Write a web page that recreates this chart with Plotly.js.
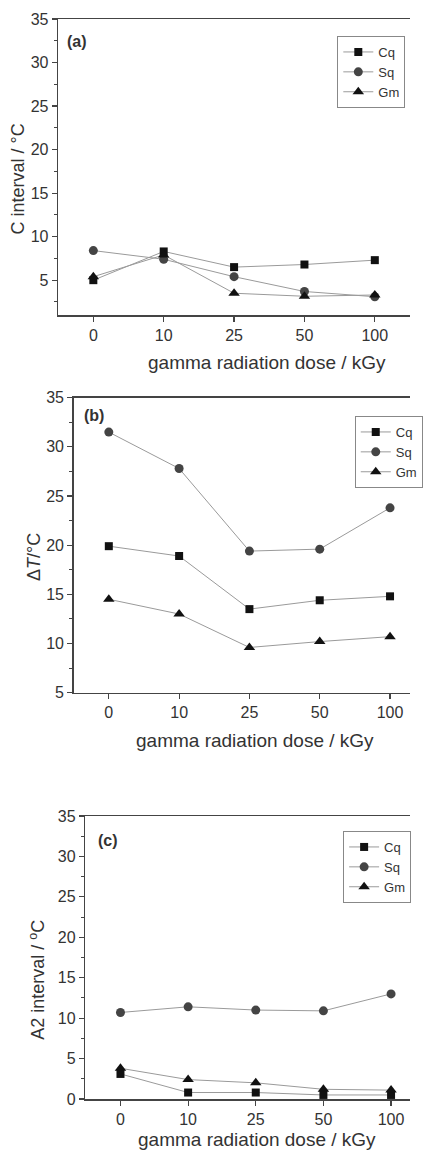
<!DOCTYPE html>
<html>
<head>
<meta charset="utf-8">
<script src="https://cdn.plot.ly/plotly-3.0.1.min.js"></script>
<style>html,body{margin:0;padding:0;background:#fff;}#chart{width:423px;height:1153px;}</style>
</head>
<body>
<div id="chart"></div>
<script>
// ---- data ----
const categories = ['0', '10', '25', '50', '100'];
// panel (a): C interval / °C
const a_Cq = [5.0, 8.3, 6.5, 6.8, 7.3];
const a_Sq = [8.4, 7.4, 5.4, 3.7, 3.1];
const a_Gm = [5.4, 7.9, 3.5, 3.15, 3.3];
// panel (b): ΔT / °C
const b_Cq = [19.9, 18.9, 13.5, 14.4, 14.8];
const b_Sq = [31.5, 27.8, 19.4, 19.6, 23.8];
const b_Gm = [14.5, 13.0, 9.6, 10.2, 10.7];
// panel (c): A2 interval / °C
const c_Cq = [3.1, 0.8, 0.8, 0.5, 0.5];
const c_Sq = [10.7, 11.4, 11.0, 10.9, 13.0];
const c_Gm = [3.8, 2.4, 2.0, 1.2, 1.1];

const W = 423, H = 1153;
const FONT = 'Liberation Sans, Arial, sans-serif';
const TXT = '#333';
const px = v => v / W;
const py = v => 1 - v / H;

const markerStyles = {
  Cq: {symbol: 'square', size: 8, color: '#111'},
  Sq: {symbol: 'circle', size: 9, color: '#444'},
  Gm: {symbol: 'triangle-up', size: 10, color: '#111'}
};

function mk(name, y, k) {
  const m = markerStyles[name];
  return {
    type: 'scatter', mode: 'lines+markers', name: name,
    x: categories, y: y,
    xaxis: k === 1 ? 'x' : 'x' + k, yaxis: k === 1 ? 'y' : 'y' + k,
    legend: k === 1 ? 'legend' : 'legend' + k,
    line: {color: '#9a9a9a', width: 1},
    marker: {symbol: m.symbol, size: m.size, color: m.color, line: {width: 0}},
    cliponaxis: false
  };
}

const data = [
  mk('Cq', a_Cq, 1), mk('Sq', a_Sq, 1), mk('Gm', a_Gm, 1),
  mk('Cq', b_Cq, 2), mk('Sq', b_Sq, 2), mk('Gm', b_Gm, 2),
  mk('Cq', c_Cq, 3), mk('Sq', c_Sq, 3), mk('Gm', c_Gm, 3)
];

function xax(domL, range, anchor) {
  return {
    type: 'category', domain: [domL, 1], range: range, anchor: anchor,
    ticks: 'outside', ticklen: 5, tickwidth: 1.2, tickcolor: '#444',
    showline: true, linecolor: '#444', linewidth: 1.5, mirror: true,
    showgrid: false, zeroline: false, fixedrange: true,
    tickfont: {family: FONT, size: 16, color: TXT}
  };
}
// overlay axis for the minor x ticks between categories
function xminor(over, domL, range, anchor) {
  return {
    overlaying: over, anchor: anchor, side: 'bottom',
    domain: [domL, 1], range: range, type: 'linear',
    tickmode: 'linear', tick0: 0.5, dtick: 1,
    ticks: 'outside', ticklen: 3, tickwidth: 1, tickcolor: '#444',
    showticklabels: false, showline: false, showgrid: false, zeroline: false, fixedrange: true
  };
}
function yax(dom, range, anchor) {
  return {
    domain: dom, range: range, anchor: anchor,
    tick0: 0, dtick: 5, ticks: 'outside', ticklen: 5, tickwidth: 1.2, tickcolor: '#444',
    minor: {ticks: 'outside', ticklen: 3, tickwidth: 1, tickcolor: '#444', tick0: 0, dtick: 2.5},
    showline: true, linecolor: '#444', linewidth: 1.5, mirror: false,
    showgrid: false, zeroline: false, fixedrange: true,
    tickfont: {family: FONT, size: 16, color: TXT}
  };
}

function leg(xp, yp) {
  return {
    x: px(xp), y: py(yp), xanchor: 'left', yanchor: 'top',
    bgcolor: '#fff', bordercolor: '#888', borderwidth: 1,
    font: {family: FONT, size: 13, color: TXT},
    itemwidth: 30, tracegroupgap: 0
  };
}

function ann(text, xp, yp, opts) {
  return Object.assign({
    text: text, xref: 'paper', yref: 'paper', x: px(xp), y: py(yp),
    xanchor: 'center', yanchor: 'middle', showarrow: false,
    font: {family: FONT, size: 19, color: TXT}
  }, opts || {});
}
const vfont = {family: FONT, size: 18, color: TXT};
const pfont = {family: FONT, size: 16, color: TXT};

const rA = [-0.5, 4.5], rB = [-0.5, 4.284], rC = [-0.52, 4.28];

const layout = {
  width: W, height: H,
  margin: {l: 0, r: 0, t: 0, b: 0},
  paper_bgcolor: '#fff', plot_bgcolor: '#fff',
  showlegend: true,
  xaxis: xax(px(60), rA, 'y'),
  yaxis: yax([py(315), py(19)], [1, 35], 'x'),
  xaxis2: xax(px(76), rB, 'y2'),
  yaxis2: yax([py(692.7), py(397.7)], [5, 35], 'x2'),
  xaxis3: xax(px(88), rC, 'y3'),
  yaxis3: yax([py(1099), py(816)], [0, 35], 'x3'),
  xaxis4: xminor('x', px(60), rA, 'y'),
  xaxis5: xminor('x2', px(76), rB, 'y2'),
  xaxis6: xminor('x3', px(88), rC, 'y3'),
  legend: leg(348, 36),
  legend2: leg(366, 416),
  legend3: leg(354, 831),
  annotations: [
    ann('<b>(a)</b>', 79, 41.7, {font: pfont}),
    ann('<b>(b)</b>', 97, 415.7, {font: pfont}),
    ann('<b>(c)</b>', 111.7, 840, {font: pfont}),
    ann('C interval / °C', 19, 179, {textangle: -90, font: vfont}),
    ann('Δ<i>T</i>/°C', 35, 557, {textangle: -90, font: vfont}),
    ann('A2 interval / <sup>o</sup>C', 38, 980, {textangle: -90, font: vfont}),
    ann('gamma radiation dose / kGy', 275, 363),
    ann('gamma radiation dose / kGy', 263, 740),
    ann('gamma radiation dose / kGy', 265, 1139)
  ]
};

Plotly.newPlot('chart', data, layout, {staticPlot: true, displayModeBar: false});
</script>
</body>
</html>
